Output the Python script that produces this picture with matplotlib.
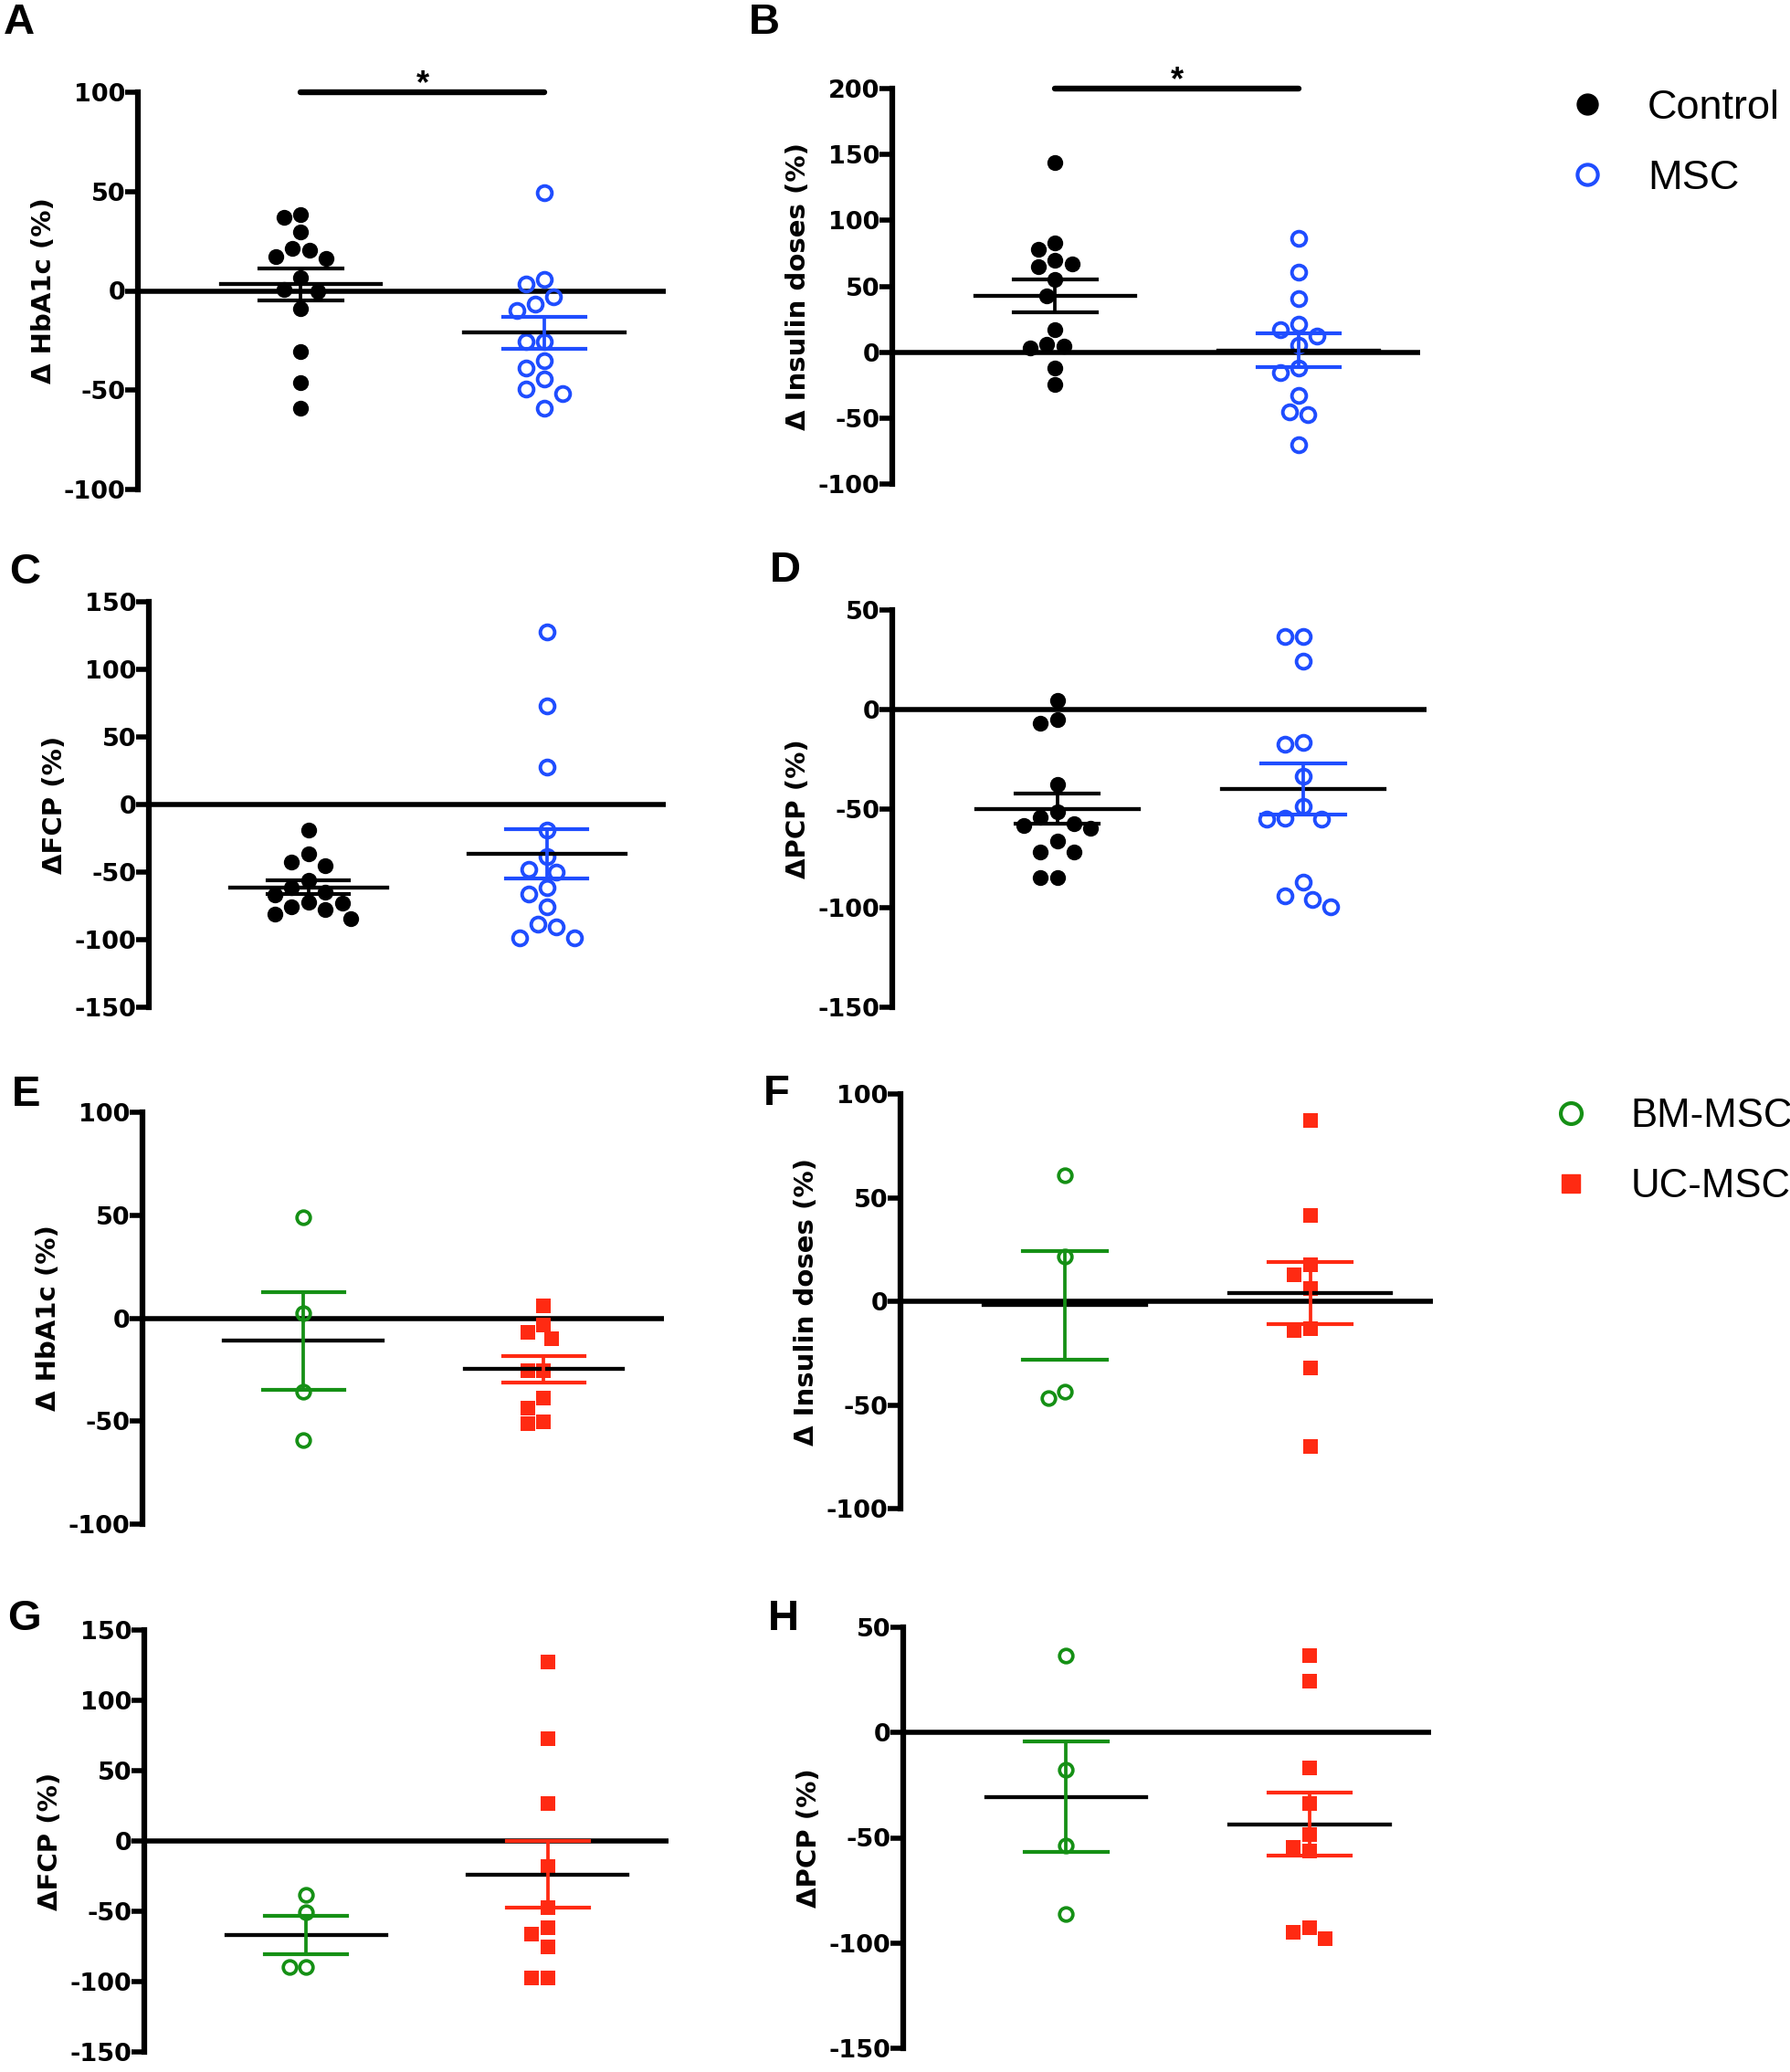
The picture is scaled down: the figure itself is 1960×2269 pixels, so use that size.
import numpy as np
import matplotlib
matplotlib.use('Agg')
import matplotlib.pyplot as plt
from matplotlib.lines import Line2D

W_PX, H_PX = 1960, 2269
plt.rcParams['font.family'] = ['DejaVu Sans']
plt.rcParams['axes.unicode_minus'] = False
ARIAL = ['Liberation Sans', 'DejaVu Sans']

# ---- values (% change) ----
top_groups = ['Control', 'MSC']
bottom_groups = ['BM-MSC', 'UC-MSC']

# A: delta HbA1c
a_control = [38.6, 37.0, 29.6, 21.4, 17.3, 20.6, 16.4, 6.6, 0.0, 0.8, -9.0, -30.8, -46.0, -59.0]
a_msc = [49.3, 5.8, 3.3, -2.8, -6.6, -9.9, -25.5, -25.5, -35.4, -38.7, -44.4, -49.3, -51.8, -59.2]
a_mean = [3.3, -21.0]
a_sem = [8.0, 8.0]

# B: delta insulin doses
b_control = [144, 78, 83, 67, 65, 70, 55, 43, 17.3, 4.5, 3.0, 5.7, -11.9, -24.7]
b_msc = [86.6, 61, 40.8, 21, 17.3, 12.4, 5.4, -11.9, -15.6, -32.6, -45, -47.5, -70.5]
b_mean = [42.8, 1.4]
b_sem = [12.4, 12.7]

# C: delta FCP
c_control = [-18.6, -36.7, -42.6, -45.3, -55.8, -61.6, -65.1, -67.0, -73.3, -72.6, -76.0, -78.0, -81.4, -84.4]
c_msc = [127.4, 72.8, 27.4, -18.6, -38.4, -50.0, -47.7, -61.6, -66.3, -76.0, -90.7, -88.4, -98.4, -98.4]
c_mean = [-61.2, -36.5]
c_sem = [5.0, 18.0]

# D: delta PCP
d_control = [4.3, -6.8, -5.2, -38.0, -51.5, -54.4, -58.6, -57.8, -59.7, -66.1, -71.8, -71.8, -84.5, -84.5]
d_msc = [36.5, 36.5, 24.2, -16.6, -17.7, -33.8, -48.7, -54.7, -55.5, -55.2, -87.2, -94.0, -95.9, -99.4]
d_mean = [-50.2, -40.1]
d_sem = [7.6, 12.7]

# E: delta HbA1c by MSC source
e_bm = [49.2, 2.6, -35.7, -59.3]
e_uc = [6.0, -3.3, -6.8, -9.8, -25.5, -25.5, -39.0, -43.5, -50.3, -51.3]
e_mean = [-11.0, -24.8]
e_sem = [23.6, 6.3]

# F: delta insulin doses by MSC source
f_bm = [61.0, 21.6, -46.6, -43.6]
f_uc = [87.1, 41.3, 17.6, 12.7, 6.0, -13.0, -14.1, -32.0, -70.0]
f_mean = [-1.9, 4.0]
f_sem = [26.3, 14.9]

# G: delta FCP by MSC source
g_bm = [-38.6, -50.7, -89.8, -89.8]
g_uc = [127.3, 72.7, 26.8, -18.2, -47.7, -61.4, -66.4, -75.0, -97.7, -97.7]
g_mean = [-66.8, -23.9]
g_sem = [13.4, 23.8]

# H: delta PCP by MSC source
h_bm = [36.4, -17.8, -53.9, -86.3]
h_uc = [36.4, 24.6, -16.7, -33.9, -48.6, -54.7, -56.2, -92.6, -94.9, -97.9]
h_mean = [-30.6, -43.5]
h_sem = [26.2, 15.0]

blue = '#1f4dff'
green = '#159015'
red = '#ff2a12'

# marker styles + their footprint in pixels (w, h) for the swarm layout
dot = (dict(marker='o', markersize=12.5, color='k', mew=0), (17.5, 17.5))
ring_blue = (dict(marker='o', markersize=11.3, mfc='none', mec=blue, mew=2.8), (19, 19))
ring_green = (dict(marker='o', markersize=10.5, mfc='none', mec=green, mew=2.7), (17.5, 18))
sq_red = (dict(marker='s', markersize=12.0, color=red, mew=0), (16.5, 16.5))

XLIM = (0.33, 2.5)


def swarm(vals, pos, xpp, ypp, w, h):
    vals = np.asarray(vals, float)
    order = np.argsort(-vals, kind='stable')
    steps = [0]
    for k in range(1, 10):
        steps += [-k, k]
    placed = []
    dx = np.zeros(len(vals))
    for i in order:
        y = vals[i] * ypp
        for k in steps:
            x = k * 0.5 * w
            if all(((x - px) / w) ** 2 + ((y - py) / h) ** 2 >= 1 for px, py in placed):
                break
        placed.append((x, y))
        dx[i] = x
    return pos + dx / xpp


panels = [
    ('A', (151, 101, 729, 536), (-100, 100), 'Δ HbA1c (%)', [a_control, a_msc], a_mean, a_sem, ['k', blue], [dot, ring_blue], True),
    ('B', (977, 97, 1555, 530), (-100, 200), 'Δ Insulin doses (%)', [b_control, b_msc], b_mean, b_sem, ['k', blue], [dot, ring_blue], True),
    ('C', (163, 659, 729, 1103), (-150, 150), 'ΔFCP (%)', [c_control, c_msc], c_mean, c_sem, ['k', blue], [dot, ring_blue], False),
    ('D', (977, 668, 1562, 1103), (-150, 50), 'ΔPCP (%)', [d_control, d_msc], d_mean, d_sem, ['k', blue], [dot, ring_blue], False),
    ('E', (156, 1218, 727, 1669), (-100, 100), 'Δ HbA1c (%)', [e_bm, e_uc], e_mean, e_sem, [green, red], [ring_green, sq_red], False),
    ('F', (986, 1198, 1569, 1652), (-100, 100), 'Δ Insulin doses (%)', [f_bm, f_uc], f_mean, f_sem, [green, red], [ring_green, sq_red], False),
    ('G', (158, 1785, 732, 2247), (-150, 150), 'ΔFCP (%)', [g_bm, g_uc], g_mean, g_sem, [green, red], [ring_green, sq_red], False),
    ('H', (989, 1782, 1567, 2243), (-150, 50), 'ΔPCP (%)', [h_bm, h_uc], h_mean, h_sem, [green, red], [ring_green, sq_red], False),
]
letter_pos = {'A': (4, 3), 'B': (820, 3), 'C': (10, 605), 'D': (843, 603), 'E': (13, 1177),
              'F': (836, 1176), 'G': (8, 1751), 'H': (841, 1751)}

fig = plt.figure(figsize=(W_PX / 100, H_PX / 100), dpi=100)

for letter, (l, t, r, b), (y0, y1), ylabel, groups, means, sems, cols, styles, sig in panels:
    ax = fig.add_axes([l / W_PX, 1 - b / H_PX, (r - l) / W_PX, (b - t) / H_PX])
    ax.set_xlim(*XLIM)
    ax.set_ylim(y0, y1)
    for s in ['top', 'right', 'bottom']:
        ax.spines[s].set_visible(False)
    ax.spines['left'].set_linewidth(4.5)
    ax.set_xticks([])
    ax.set_yticks(np.arange(y0, y1 + 1, 50))
    ax.tick_params(axis='y', width=4.0, length=10, pad=0, labelsize=19.5)
    plt.setp(ax.get_yticklabels(), fontweight='bold')
    ax.set_ylabel(ylabel, fontsize=21, fontweight='bold', labelpad=5)
    ax.axhline(0, color='k', lw=4.0, solid_capstyle='round', zorder=2)

    xpp = (r - l) / (XLIM[1] - XLIM[0])
    ypp = (b - t) / (y1 - y0)
    for i, (vals, m, s, c, (st, (w, h))) in enumerate(zip(groups, means, sems, cols, styles)):
        pos = i + 1
        xs = swarm(vals, pos, xpp, ypp, w * 1.05, h * 1.02)
        ax.plot(xs, vals, ls='none', zorder=3, **st)
        ax.plot([pos - 0.33, pos + 0.33], [m, m], color='k', lw=3.1, zorder=4)
        ax.plot([pos, pos], [m - s, m + s], color=c, lw=2.7, zorder=4)
        ax.plot([pos - 0.17, pos + 0.17], [m + s, m + s], color=c, lw=3.0, zorder=4)
        ax.plot([pos - 0.17, pos + 0.17], [m - s, m - s], color=c, lw=3.0, zorder=4)

    if sig:
        ax.plot([1, 2], [y1, y1], color='k', lw=4.6, solid_capstyle='round', clip_on=False)
        ax.annotate('*', xy=(1.5, y1), xytext=(0, -1), textcoords='offset points',
                    ha='center', va='baseline', fontsize=26, fontweight='bold',
                    family=ARIAL, annotation_clip=False)

    lx, ly = letter_pos[letter]
    fig.text(lx / W_PX, 1 - ly / H_PX, letter, fontsize=34, fontweight='bold',
             family=ARIAL, ha='left', va='top')

top_handles = [Line2D([], [], ls='none', marker='o', color='k', markersize=16.5),
               Line2D([], [], ls='none', marker='o', mfc='none', mec=blue, mew=3, markersize=16)]
fig.legend(top_handles, top_groups, loc='upper left', bbox_to_anchor=(1715 / W_PX, 1 - 98 / H_PX),
           frameon=False, handlelength=1.0, handletextpad=0.97,
           labelspacing=0.8, borderpad=0, borderaxespad=0,
           prop={'family': ARIAL, 'size': 32.5})

bottom_handles = [Line2D([], [], ls='none', marker='o', mfc='none', mec=green, mew=3, markersize=16.5),
                  Line2D([], [], ls='none', marker='s', color=red, markersize=15)]
fig.legend(bottom_handles, bottom_groups, loc='upper left', bbox_to_anchor=(1698 / W_PX, 1 - 1202 / H_PX),
           frameon=False, handlelength=1.0, handletextpad=1.0,
           labelspacing=0.82, borderpad=0, borderaxespad=0,
           prop={'family': ARIAL, 'size': 31.5})

fig.savefig('out.png', dpi=100, facecolor='white')
